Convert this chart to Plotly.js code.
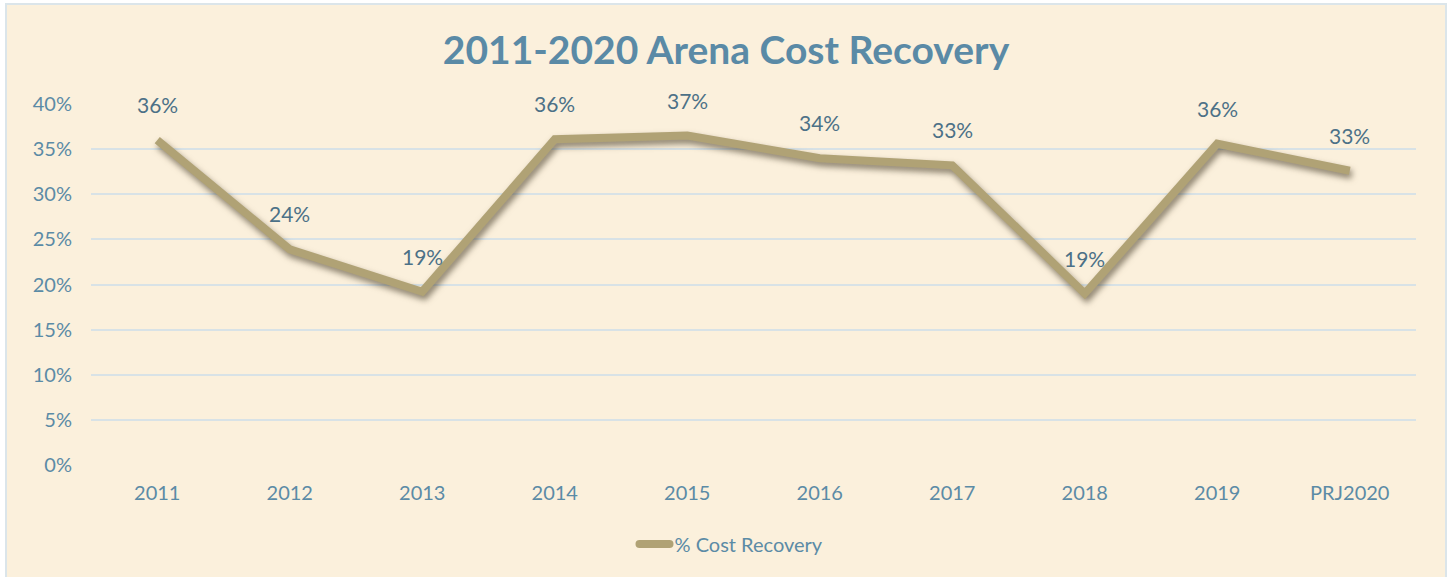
<!DOCTYPE html>
<html>
<head>
<meta charset="utf-8">
<script src="https://cdn.plot.ly/plotly-3.0.1.min.js"></script>
<style>
  html, body { margin: 0; padding: 0; background: #ffffff; width: 1453px; height: 577px; overflow: hidden; }
  #wrap { position: absolute; left: 5px; top: 3px; width: 1438px; height: 580px; border: 2px solid #dbe5ea; background: #fbf0dc; }
  #chart { width: 1438px; height: 572px; }
  .scatterlayer .js-line { filter: drop-shadow(2px 4px 3px rgba(60,50,30,0.6)); }
  .legend .js-line { stroke-linecap: round; }
</style>
</head>
<body>
<div id="wrap"><div id="chart"></div></div>
<script>
const categories = ["2011", "2012", "2013", "2014", "2015", "2016", "2017", "2018", "2019", "PRJ2020"];
const costRecovery = [0.360, 0.239, 0.192, 0.361, 0.365, 0.340, 0.332, 0.190, 0.356, 0.326];
const seriesName = "% Cost Recovery";
const yTickVals = [0, 0.05, 0.10, 0.15, 0.20, 0.25, 0.30, 0.35, 0.40];
const yTickText = ["0%", "5%", "10%", "15%", "20%", "25%", "30%", "35%", "40%"];

const fontFamily = "Lato, 'DejaVu Sans', sans-serif";
const tickColor = "#5b8ba6";
const labelColor = "#4c7187";
const lineColor = "#b0a275";

const xIdx = categories.map((c, i) => i);

const trace = {
  x: xIdx,
  y: costRecovery,
  type: "scatter",
  mode: "lines",
  name: seriesName,
  line: { color: lineColor, width: 8 },
  showlegend: true,
  hoverinfo: "skip"
};

const annotations = categories.map((c, i) => ({
  x: xIdx[i], y: costRecovery[i], xref: "x", yref: "y",
  text: Math.round(costRecovery[i] * 100) + "%",
  showarrow: false, yanchor: "bottom", yshift: 21,
  font: { family: fontFamily, size: 21, color: labelColor }
}));

const layout = {
  width: 1438, height: 572,
  paper_bgcolor: "#fbf0dc",
  plot_bgcolor: "#fbf0dc",
  margin: { l: 84, r: 29, t: 99, b: 112 },
  title: {
    text: "<b>2011-2020 Arena Cost Recovery</b>",
    font: { family: fontFamily, size: 39, color: "#5a8aa6" },
    x: 0.5, xanchor: "center", xref: "container",
    y: 1 - 45 / 572, yanchor: "middle", yref: "container"
  },
  xaxis: {
    type: "linear",
    range: [-0.5, categories.length - 0.5],
    tickvals: xIdx, ticktext: categories,
    tickfont: { family: fontFamily, size: 20, color: tickColor },
    showgrid: false, zeroline: false, showline: false,
    ticks: "", ticklabelstandoff: 14,
    fixedrange: true
  },
  yaxis: {
    range: [0, 0.40],
    tickvals: yTickVals, ticktext: yTickText,
    tickfont: { family: fontFamily, size: 20, color: tickColor },
    showgrid: true, gridcolor: "#d8e2e6", gridwidth: 2,
    zeroline: false, showline: false, ticks: "",
    ticklabelstandoff: 18,
    fixedrange: true
  },
  showlegend: true,
  legend: {
    orientation: "h", x: 0.5 - 22 / 1325, xanchor: "center",
    y: -79 / 361, yanchor: "middle",
    font: { family: fontFamily, size: 20, color: tickColor },
    bgcolor: "rgba(0,0,0,0)"
  },
  annotations: annotations
};

Plotly.newPlot("chart", [trace], layout, { displayModeBar: false, staticPlot: true });
</script>
</body>
</html>
